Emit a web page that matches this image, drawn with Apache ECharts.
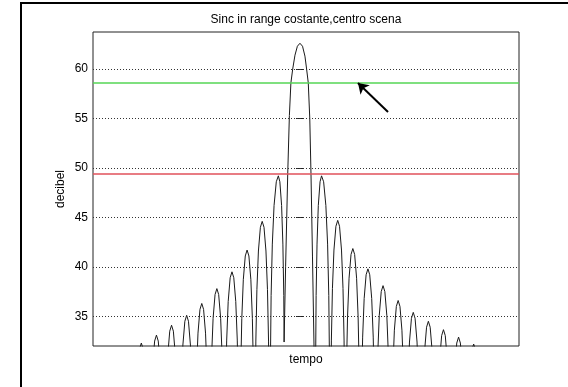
<!DOCTYPE html>
<html>
<head>
<meta charset="utf-8">
<script src="https://cdn.jsdelivr.net/npm/echarts@6/dist/echarts.min.js"></script>
<style>html,body{margin:0;padding:0;background:#fff;}#c{width:568px;height:387px;}</style>
</head>
<body>
<div id="c"></div>
<script>
// ---- data ----
const titleText = 'Sinc in range costante,centro scena';
const xName = 'tempo';
const yName = 'decibel';
const yTicks = [35, 40, 45, 50, 55, 60];
const yMin = 32, yMax = 63.74;
const xMin = -13.7, xMax = 14.5;
const greenLevel = 58.6;
const redLevel = 49.4;
const arrowFrom = [5.83, 55.65];
const arrowTo = [3.84, 58.58];

const tempo = [
  -13.7, -11,
  -10.85, -10.75, -10.62, -10.5, -10.38, -10.25, -10.15, -10,
  -9.85, -9.75, -9.62, -9.5, -9.38, -9.25, -9.15, -9,
  -8.85, -8.75, -8.62, -8.5, -8.38, -8.25, -8.15, -8,
  -7.85, -7.75, -7.62, -7.5, -7.38, -7.25, -7.15, -7,
  -6.85, -6.75, -6.62, -6.5, -6.38, -6.25, -6.15, -6,
  -5.85, -5.75, -5.62, -5.5, -5.38, -5.25, -5.15, -5,
  -4.92, -4.85, -4.75, -4.62, -4.5, -4.38, -4.25, -4.15, -4.08, -4,
  -3.97, -3.92, -3.85, -3.75, -3.62, -3.5, -3.38, -3.25, -3.15, -3.08, -3.03, -3,
  -2.97, -2.92, -2.85, -2.75, -2.62, -2.5, -2.38, -2.25, -2.15, -2.08, -2.03, -2,
  -1.966, -1.909, -1.83, -1.715, -1.567, -1.43, -1.33, -1.215, -1.13, -1.07,
  -1.05, -0.95, -0.81, -0.7, -0.6, -0.48, -0.33, -0.17, 0,
  0.17, 0.33, 0.44, 0.55, 0.65, 0.73, 0.83, 0.93, 1.0,
  1.03, 1.07, 1.13, 1.215, 1.33, 1.43, 1.567, 1.715, 1.83, 1.909, 1.966, 2,
  2.03, 2.08, 2.15, 2.25, 2.38, 2.5, 2.62, 2.75, 2.85, 2.92, 2.97, 3,
  3.03, 3.08, 3.15, 3.25, 3.38, 3.5, 3.62, 3.75, 3.85, 3.92, 3.97, 4,
  4.08, 4.15, 4.25, 4.38, 4.5, 4.62, 4.75, 4.85, 4.92, 5,
  5.15, 5.25, 5.38, 5.5, 5.62, 5.75, 5.85, 6,
  6.15, 6.25, 6.38, 6.5, 6.62, 6.75, 6.85, 7,
  7.15, 7.25, 7.38, 7.5, 7.62, 7.75, 7.85, 8,
  8.15, 8.25, 8.38, 8.5, 8.62, 8.75, 8.85, 9,
  9.15, 9.25, 9.38, 9.5, 9.62, 9.75, 9.85, 10,
  10.15, 10.25, 10.38, 10.5, 10.62, 10.75, 10.85, 11,
  11.15, 11.25, 11.38, 11.5, 11.62, 11.75, 11.85, 12,
  14.5
];
const decibel = [
  10, 10,
  25.4, 29.3, 31.7, 32.3, 31.7, 29.3, 25.4, 10,
  26.2, 30.1, 32.5, 33.1, 32.5, 30.1, 26.2, 10,
  27.2, 31.1, 33.5, 34.1, 33.5, 31.1, 27.2, 10,
  28.2, 32.1, 34.5, 35.1, 34.5, 32.1, 28.2, 10,
  29.4, 33.3, 35.7, 36.3, 35.7, 33.3, 29.4, 10,
  30.9, 34.8, 37.2, 37.8, 37.2, 34.8, 30.9, 10,
  27.4, 32.6, 36.5, 38.9, 39.5, 38.9, 36.5, 32.6, 27.4, 10,
  21.2, 29.6, 34.8, 38.7, 41.1, 41.7, 41.1, 38.7, 34.8, 29.6, 21.2, 10,
  24.1, 32.5, 37.7, 41.6, 44.0, 44.6, 44.0, 41.6, 37.7, 32.5, 24.1, 10,
  28.7, 37.1, 42.3, 46.2, 48.6, 49.2, 48.6, 46.2, 42.3, 37.1,
  32.4, 40, 49.4, 55.3, 58.6, 60.0, 61.4, 62.3, 62.6,
  62.3, 61.3, 60.0, 58.6, 55.0, 49.4, 41, 32, 10,
  28.7, 37.1, 42.3, 46.2, 48.6, 49.2, 48.6, 46.2, 42.3, 37.1, 28.7, 10,
  24.2, 32.6, 37.8, 41.7, 44.1, 44.7, 44.1, 41.7, 37.8, 32.6, 24.2, 10,
  21.35, 29.75, 34.95, 38.85, 41.25, 41.85, 41.25, 38.85, 34.95, 29.75, 21.35, 10,
  27.7, 32.9, 36.8, 39.2, 39.8, 39.2, 36.8, 32.9, 27.7, 10,
  31.2, 35.1, 37.5, 38.1, 37.5, 35.1, 31.2, 10,
  29.7, 33.6, 36.0, 36.6, 36.0, 33.6, 29.7, 10,
  28.5, 32.4, 34.8, 35.4, 34.8, 32.4, 28.5, 10,
  27.6, 31.5, 33.9, 34.5, 33.9, 31.5, 27.6, 10,
  26.75, 30.65, 33.05, 33.65, 33.05, 30.65, 26.75, 10,
  26.0, 29.9, 32.3, 32.9, 32.3, 29.9, 26.0, 10,
  25.3, 29.2, 31.6, 32.2, 31.6, 29.2, 25.3, 10,
  10
];

const FONT = '"Liberation Sans", Arial, sans-serif';
const chart = echarts.init(document.getElementById('c'), null, {renderer: 'canvas'});
const curve = tempo.map((t, i) => [t, decibel[i]]);

chart.setOption({
  animation: false,
  backgroundColor: '#fff',
  grid: {left: 93, top: 32, width: 426, height: 314, show: true, borderColor: '#222', borderWidth: 1, backgroundColor: 'transparent', containLabel: false},
  xAxis: [
    {type: 'value', min: xMin, max: xMax, position: 'bottom',
     axisLine: {show: false}, axisTick: {show: false}, axisLabel: {show: false}, splitLine: {show: false},
     name: xName, nameLocation: 'middle', nameGap: 8, nameMoveOverlap: false,
     nameTextStyle: {fontFamily: FONT, fontSize: 12, color: '#000', verticalAlign: 'top'}},
    {type: 'value', min: xMin, max: xMax, position: 'top',
     axisLine: {show: false}, axisTick: {show: false}, axisLabel: {show: false}, splitLine: {show: false},
     name: titleText, nameLocation: 'middle', nameGap: 6, nameMoveOverlap: false,
     nameTextStyle: {fontFamily: FONT, fontSize: 12, color: '#000'}}
  ],
  yAxis: [
    {type: 'value', min: yMin, max: yMax, position: 'left',
     axisLine: {show: false},
     axisTick: {show: true, inside: true, length: 4, customValues: yTicks, lineStyle: {color: '#222'}},
     axisLabel: {show: true, customValues: yTicks, margin: 5, fontFamily: FONT, fontSize: 12, color: '#000'},
     splitLine: {show: false},
     name: yName, nameLocation: 'middle', nameGap: 26, nameMoveOverlap: false,
     nameTextStyle: {fontFamily: FONT, fontSize: 12, color: '#000'}},
    {type: 'value', min: yMin, max: yMax, position: 'right',
     axisLine: {show: false},
     axisTick: {show: true, inside: true, length: 4, customValues: yTicks, lineStyle: {color: '#222'}},
     axisLabel: {show: false}, splitLine: {show: false}}
  ],
  graphic: [
    {type: 'rect', shape: {x: 21, y: 3, width: 620, height: 420}, style: {fill: 'none', stroke: '#000', lineWidth: 2}, silent: true}
  ],
  series: [
    {
      name: 'grid', type: 'line', data: [], silent: true,
      markLine: {
        silent: true, symbol: 'none', animation: false,
        label: {show: false},
        lineStyle: {color: '#333', width: 1, type: [1, 2]},
        emphasis: {disabled: true},
        data: yTicks.map(v => ({yAxis: v}))
      }
    },
    {
      name: 'sinc', type: 'line', data: curve, showSymbol: false, symbol: 'none',
      clip: true, smooth: false, silent: true,
      lineStyle: {color: '#1a1a1a', width: 1},
      z: 3
    },
    {
      name: 'levels', type: 'line', data: [], silent: true, z: 4,
      markLine: {
        silent: true, symbol: 'none', animation: false,
        label: {show: false}, emphasis: {disabled: true},
        data: [
          {yAxis: greenLevel, lineStyle: {color: '#55d655', width: 1.6, type: 'solid'}},
          {yAxis: redLevel, lineStyle: {color: '#e0505a', width: 1.6, type: 'solid'}}
        ]
      }
    },
    {
      name: 'arrow', type: 'line', data: [], silent: true, z: 5,
      markLine: {
        silent: true, animation: false,
        symbol: ['none', 'arrow'], symbolSize: 10,
        label: {show: false}, emphasis: {disabled: true},
        lineStyle: {color: '#000', width: 2, type: 'solid'},
        data: [[{coord: arrowFrom}, {coord: arrowTo}]]
      }
    }
  ]
});
</script>
</body>
</html>
